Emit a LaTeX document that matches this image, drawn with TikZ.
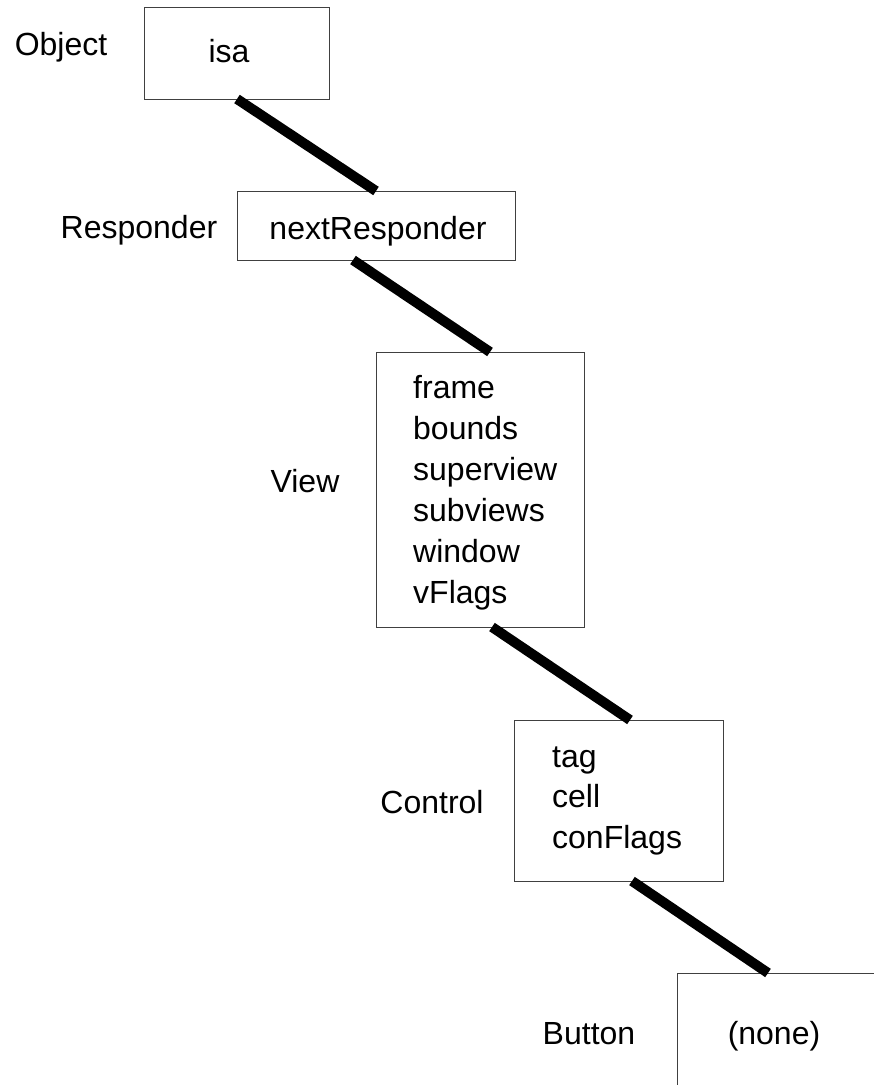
\documentclass[tikz,border=0pt]{standalone}
\usepackage{fontspec}
\setmainfont{Liberation Sans}
\begin{document}
\begin{tikzpicture}[x=1pt,y=-1pt,
  box/.style={draw=black!75, line width=1pt, inner sep=0pt, outer sep=0pt, anchor=north west},
  lbl/.style={inner sep=0pt, anchor=base, font=\fontsize{32}{38}\selectfont},
  fld/.style={inner sep=0pt, anchor=base west, font=\fontsize{32}{38}\selectfont},
  link/.style={line width=10pt, line cap=butt}]
\useasboundingbox (0,0) rectangle (874,1085);
\clip (0,0) rectangle (874,1085);
% boxes
\node[box, minimum width=185pt, minimum height=92pt] (obj) at (144,7) {};
\node[box, minimum width=278pt, minimum height=69pt] (resp) at (237,191) {};
\node[box, minimum width=208pt, minimum height=275pt] (view) at (376,352) {};
\node[box, minimum width=209pt, minimum height=161pt] (ctrl) at (514,720) {};
\node[box, minimum width=260pt, minimum height=200pt] (btn) at (677,973) {};
% class labels
\node[lbl] (lobj) at (61,55) {Object};
\node[lbl] (lresp) at (139,238) {Responder};
\node[lbl] (lview) at (305,492) {View};
\node[lbl] (lctrl) at (432,813) {Control};
\node[lbl] (lbtn) at (589,1044) {Button};
% fields
\node[lbl] (fisa) at (229,62) {isa};
\node[lbl] (fnext) at (378,239) {nextResponder};
\node[fld] (f1) at (413,398) {frame};
\node[fld] (f2) at (413,439) {bounds};
\node[fld] (f3) at (413,480) {superview};
\node[fld] (f4) at (413,521) {subviews};
\node[fld] (f5) at (413,562) {window};
\node[fld] (f6) at (413,603) {vFlags};
\node[fld] (c1) at (552,767) {tag};
\node[fld] (c2) at (552,807) {cell};
\node[fld] (c3) at (552,848) {conFlags};
\node[lbl] (fnone) at (774,1044) {(none)};
% connectors
\draw[link] ([xshift=93pt]obj.south west) -- ([xshift=139pt]resp.north west);
\draw[link] ([xshift=116pt]resp.south west) -- ([xshift=114pt]view.north west);
\draw[link] ([xshift=116pt]view.south west) -- ([xshift=116pt]ctrl.north west);
\draw[link] ([xshift=118pt]ctrl.south west) -- ([xshift=91pt]btn.north west);
\end{tikzpicture}
\end{document}
